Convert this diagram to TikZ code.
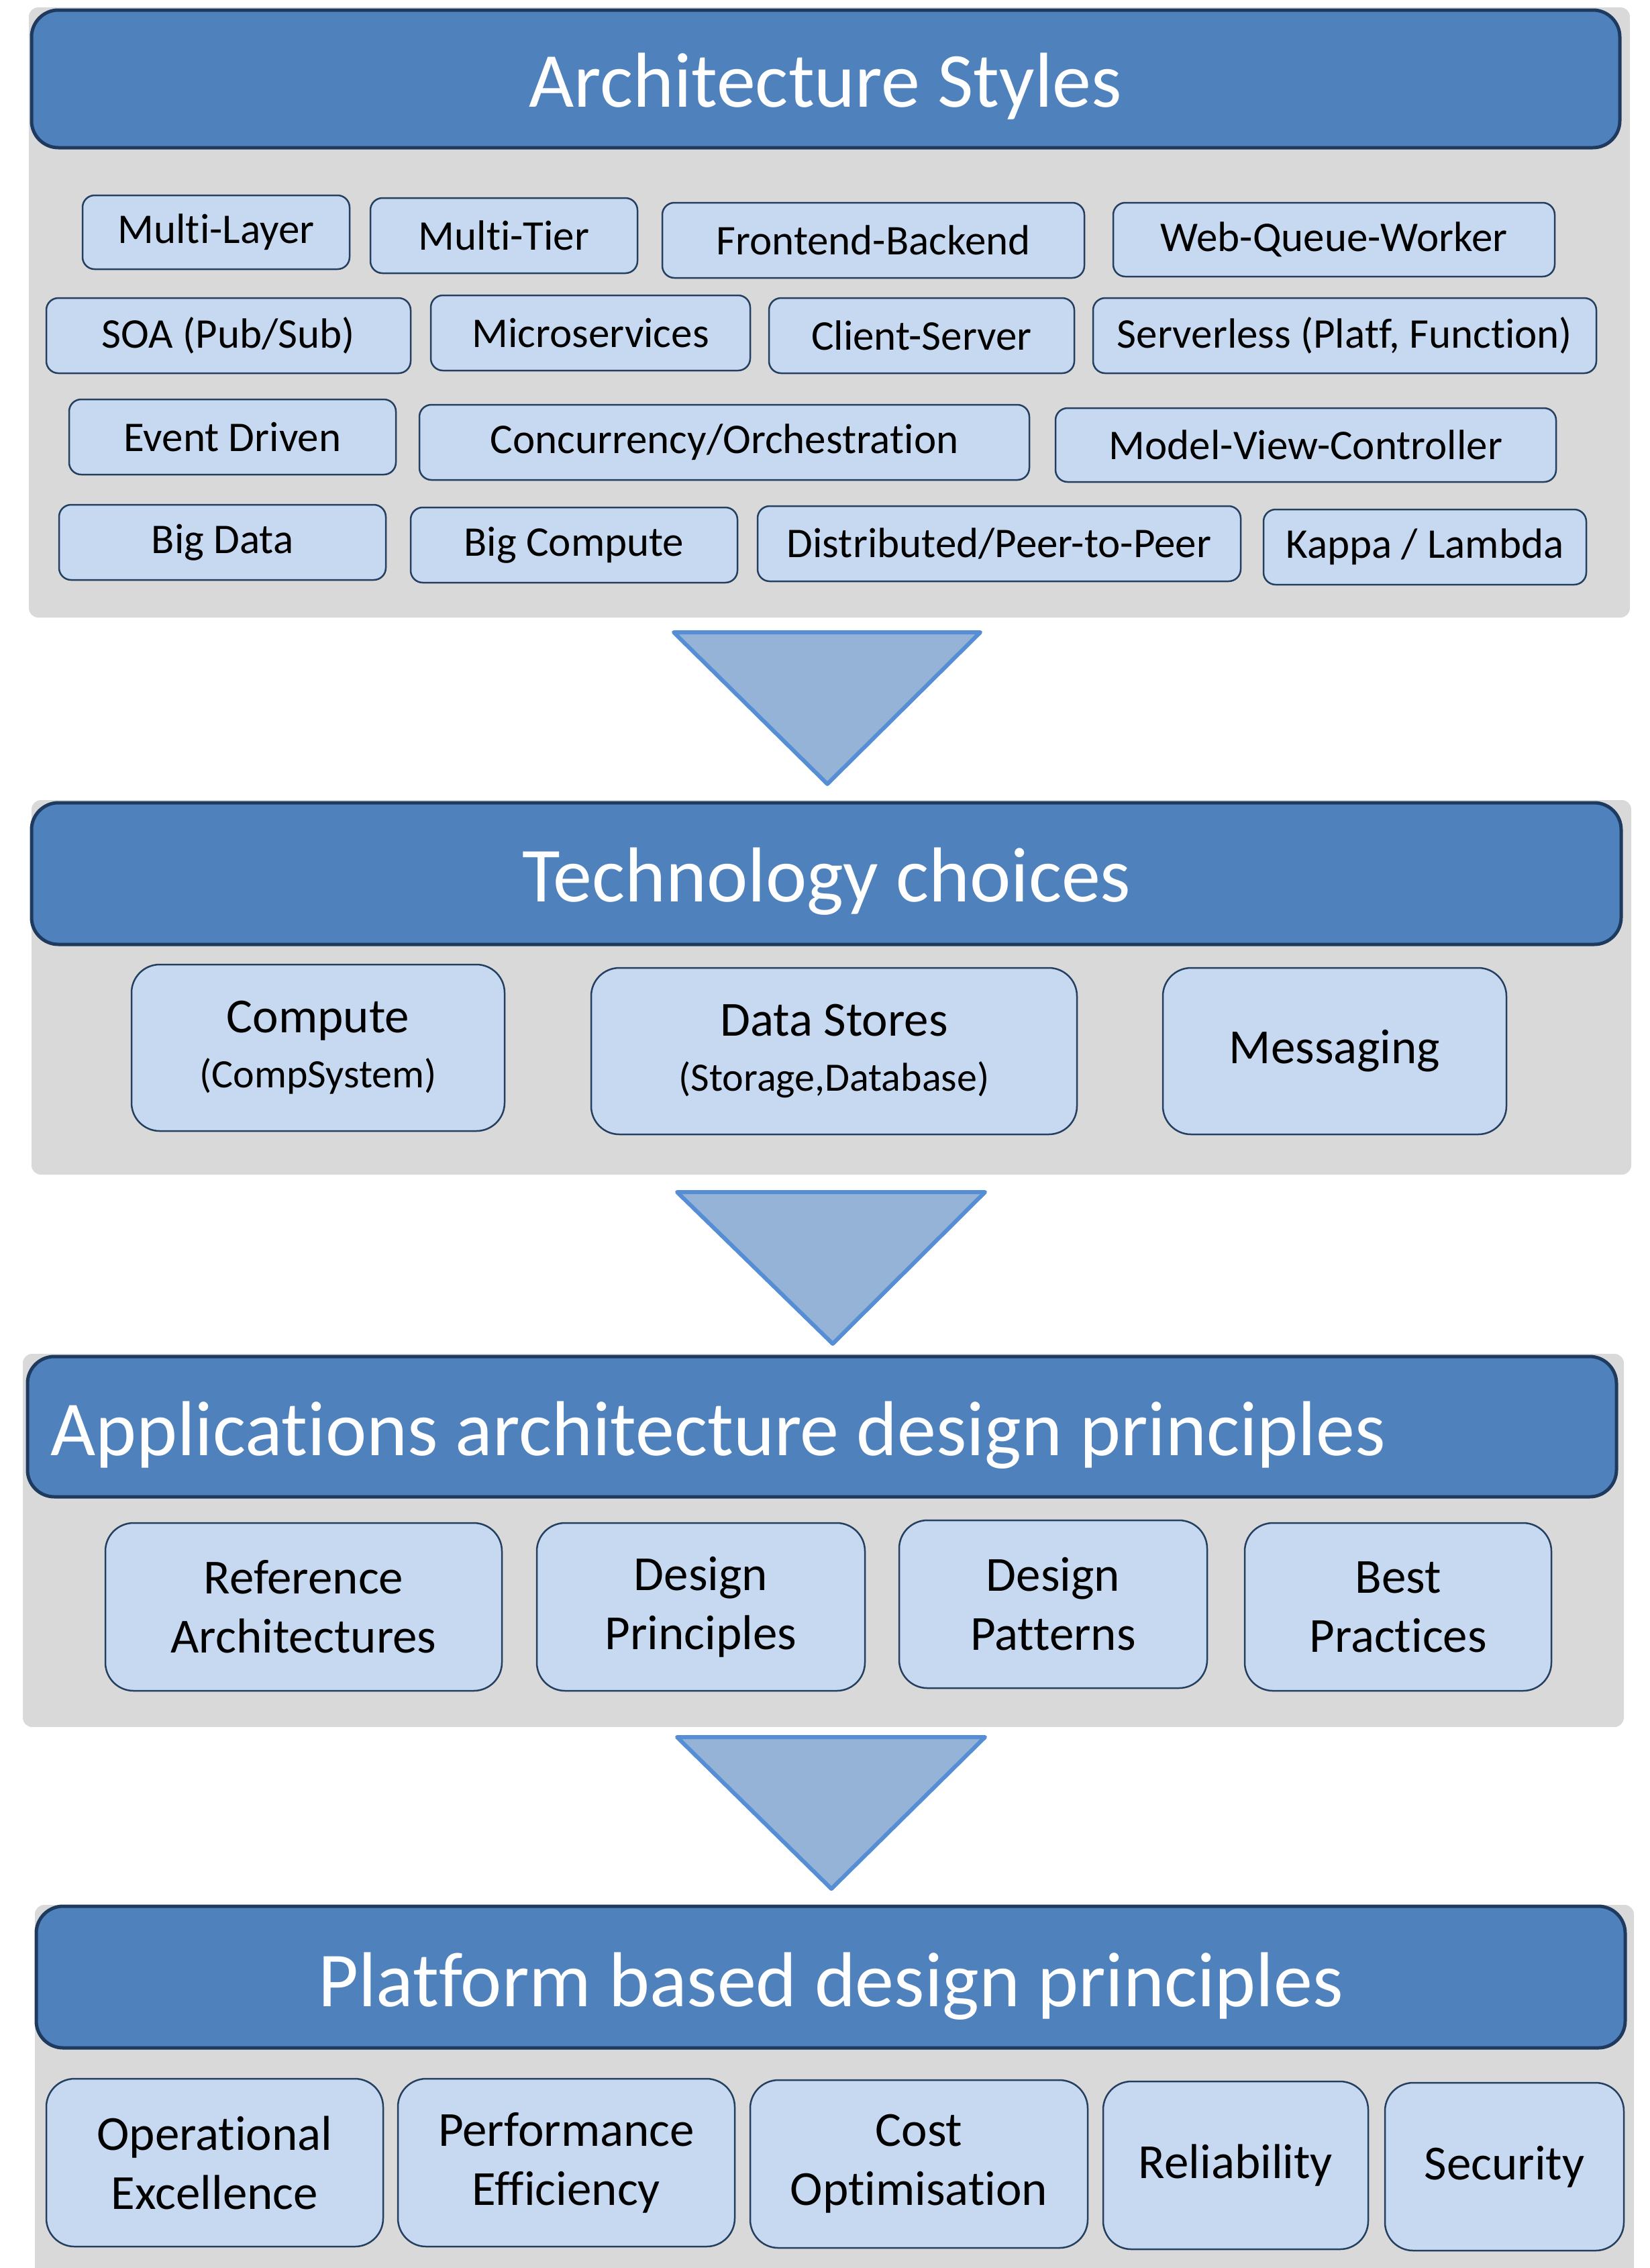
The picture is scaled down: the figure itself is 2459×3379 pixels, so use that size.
\documentclass[tikz,border=0pt]{standalone}
\usepackage{fontspec}
\setmainfont{Carlito}[Ligatures=NoCommon]
\definecolor{hdr}{HTML}{4F81BD}
\definecolor{hdrline}{HTML}{1F3A5F}
\definecolor{panel}{HTML}{D9D9D9}
\definecolor{boxfill}{HTML}{C6D9F1}
\definecolor{boxline}{HTML}{243F60}
\definecolor{trifill}{HTML}{95B3D7}
\definecolor{triline}{HTML}{558ED5}
\tikzset{
  panelbox/.style={fill=panel, draw=none, rounded corners=14pt, inner sep=0pt},
  header/.style={fill=hdr, draw=hdrline, line width=5pt, rounded corners=40pt, inner sep=0pt},
  titletext/.style={text=white, inner sep=0pt, font=\fontsize{116}{139}\selectfont},
  smallbox/.style={fill=boxfill, draw=boxline, line width=2.5pt, rounded corners=18pt, inner sep=0pt, font=\fontsize{63}{76}\selectfont},
  bigbox/.style={fill=boxfill, draw=boxline, line width=2.5pt, rounded corners=42pt, inner sep=0pt, align=center, font=\fontsize{73}{88}\selectfont},
  arrowtri/.style={fill=trifill, draw=triline, line width=6pt, line join=round},
}
\newcommand{\subtxt}[1]{{\fontsize{60}{72}\selectfont #1}}
% \bx{style}{name}{x1}{y1}{x2}{y2}{text}
\newcommand{\bx}[7]{%
  \node[#1, minimum width={(#5-#3)*1pt}, minimum height={(#6-#4)*1pt}]
    (#2) at ({(#3+#5)/2},{(#4+#6)/2}) {#7};}
\begin{document}
\begin{tikzpicture}[x=1pt,y=-1pt]
\useasboundingbox (0,0) rectangle (2459,3379);
\fill[white] (0,0) rectangle (2459,3379);

% ---------- Section 1 ----------
\bx{panelbox}{p1}{43}{11}{2429}{920}{}
\bx{header}{h1}{47}{15}{2414}{220}{}
\node[titletext, anchor=base] (t1) at (1230,159) {Architecture Styles};

\bx{smallbox}{a1}{123}{291}{521}{401}{Multi-Layer}
\bx{smallbox}{a2}{552}{295}{950}{407}{Multi-Tier}
\bx{smallbox}{a3}{987}{302}{1616}{414}{Frontend-Backend}
\bx{smallbox}{a4}{1659}{302}{2317}{412}{Web-Queue-Worker}

\bx{smallbox}{b1}{69}{444}{612}{556}{SOA (Pub/Sub)}
\bx{smallbox}{b2}{642}{440}{1118}{552}{Microservices}
\bx{smallbox}{b3}{1146}{444}{1601}{556}{Client-Server}
\bx{smallbox}{b4}{1629}{444}{2379}{556}{Serverless (Platf, Function)}

\bx{smallbox}{c1}{103}{595}{590}{707}{Event Driven}
\bx{smallbox}{c2}{625}{603}{1534}{715}{Concurrency/Orchestration}
\bx{smallbox}{c3}{1573}{608}{2319}{718}{Model-View-Controller}

\bx{smallbox}{d1}{88}{752}{575}{864}{Big Data}
\bx{smallbox}{d2}{612}{756}{1099}{868}{Big Compute}
\bx{smallbox}{d3}{1129}{754}{1849}{866}{Distributed/Peer-to-Peer}
\bx{smallbox}{d4}{1883}{759}{2364}{871}{Kappa / Lambda}

% ---------- Arrow 1 ----------
\draw[arrowtri] (1004,942) -- (1461,942) -- (1233,1168) -- cycle;

% ---------- Section 2 ----------
\bx{panelbox}{p2}{47}{1192}{2431}{1750}{}
\bx{header}{h2}{47}{1196}{2416}{1407}{}
\node[titletext, anchor=base] (t2) at (1232,1343) {Technology choices};

\bx{bigbox}{e1}{196}{1437}{752}{1685}{Compute\\[-6pt]\subtxt{(CompSystem)}}
\bx{bigbox}{e2}{881}{1442}{1605}{1690}{Data Stores\\[-6pt]\subtxt{(Storage,Database)}}
\bx{bigbox}{e3}{1733}{1442}{2245}{1690}{Messaging}

% ---------- Arrow 2 ----------
\draw[arrowtri] (1009,1776) -- (1468,1776) -- (1241,2002) -- cycle;

% ---------- Section 3 ----------
\bx{panelbox}{p3}{34}{2017}{2420}{2573}{}
\bx{header}{h3}{41}{2021}{2409}{2230}{}
\node[titletext, anchor=base west] (t3) at (75,2168) {Applications architecture design principles};

\bx{bigbox}{f1}{157}{2269}{748}{2519}{Reference\\Architectures}
\bx{bigbox}{f2}{800}{2269}{1289}{2519}{Design\\Principles}
\bx{bigbox}{f3}{1340}{2265}{1799}{2515}{Design\\Patterns}
\bx{bigbox}{f4}{1855}{2269}{2312}{2519}{Best\\Practices}

% ---------- Arrow 3 ----------
\draw[arrowtri] (1009,2588) -- (1468,2588) -- (1239,2814) -- cycle;

% ---------- Section 4 ----------
\fill[panel] (52,3379) -- (52,2852) arc[start angle=180, end angle=90, radius=14pt] -- (2421,2838) arc[start angle=90, end angle=0, radius=14pt] -- (2435,3379) -- cycle;
\bx{header}{h4}{54}{2840}{2422}{3051}{}
\node[titletext, anchor=base] (t4) at (1238,2989) {Platform based design principles};

\bx{bigbox}{g1}{69}{3097}{571}{3347}{Operational\\Excellence}
\bx{bigbox}{g2}{593}{3097}{1095}{3347}{Performance\\Efficiency}
\bx{bigbox}{g3}{1118}{3099}{1621}{3349}{Cost\\Optimisation}
\bx{bigbox}{g4}{1644}{3101}{2039}{3351}{Reliability}
\bx{bigbox}{g5}{2064}{3103}{2420}{3353}{Security}
\end{tikzpicture}
\end{document}
